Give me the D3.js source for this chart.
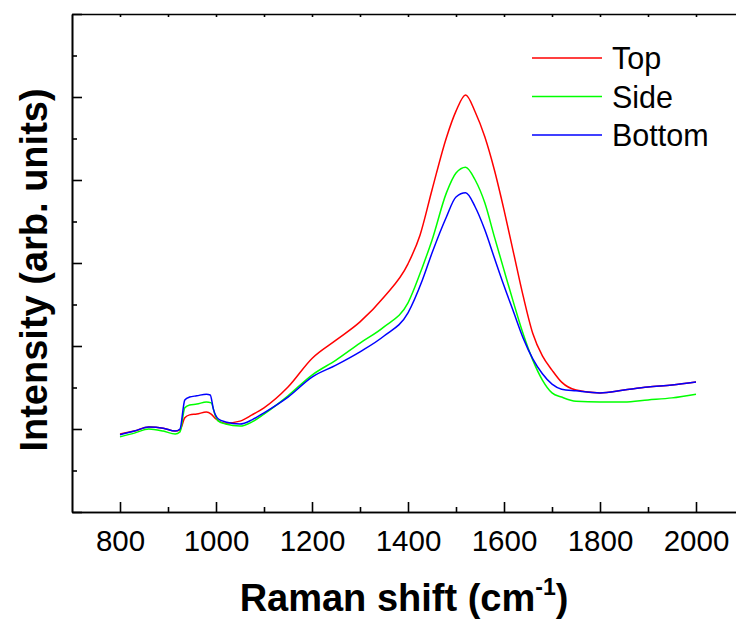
<!DOCTYPE html>
<html>
<head>
<meta charset="utf-8">
<script src="https://cdn.jsdelivr.net/npm/d3@7/dist/d3.min.js"></script>
<style>
  html, body { margin: 0; padding: 0; background: #fff; }
  svg { display: block; }
  text { font-family: Arial, "Liberation Sans", Helvetica, sans-serif; fill: #000; }
</style>
</head>
<body>
<svg id="chart" width="736" height="621"></svg>
<script>
// Raman spectra of the three sample faces (intensity in arbitrary units)
const seriesNames = ["Top", "Side", "Bottom"];
const seriesColors = ["#ff0000", "#00ff00", "#0000ff"];

const topShift = [800, 830, 860, 890, 915, 925, 935, 945, 960, 980, 990, 1000, 1020, 1050, 1075, 1100, 1150, 1200, 1250, 1300, 1350, 1400, 1425, 1450, 1480, 1500, 1520, 1540, 1560, 1580, 1600, 1620, 1640, 1660, 1680, 1700, 1720, 1750, 1800, 1850, 1900, 1950, 2000];
const topIntensity = [1.88, 1.95, 2.05, 2.02, 1.95, 1.98, 2.27, 2.34, 2.36, 2.41, 2.36, 2.24, 2.14, 2.19, 2.34, 2.51, 3.01, 3.70, 4.14, 4.58, 5.18, 5.98, 6.67, 7.76, 9.02, 9.66, 10.05, 9.64, 9.04, 8.24, 7.28, 6.24, 5.20, 4.30, 3.76, 3.42, 3.13, 2.94, 2.87, 2.94, 3.01, 3.06, 3.13];

const sideShift = [800, 830, 860, 890, 915, 925, 935, 945, 960, 980, 990, 998, 1005, 1020, 1050, 1075, 1100, 1150, 1200, 1250, 1300, 1350, 1400, 1430, 1450, 1480, 1500, 1520, 1540, 1560, 1580, 1600, 1620, 1640, 1660, 1680, 1700, 1720, 1750, 1800, 1850, 1900, 1950, 2000];
const sideIntensity = [1.81, 1.90, 2.00, 1.95, 1.88, 1.93, 2.51, 2.58, 2.60, 2.65, 2.63, 2.34, 2.19, 2.12, 2.07, 2.17, 2.36, 2.80, 3.30, 3.66, 4.07, 4.46, 5.04, 5.90, 6.55, 7.69, 8.17, 8.31, 8.00, 7.45, 6.63, 5.83, 5.04, 4.29, 3.66, 3.18, 2.87, 2.77, 2.67, 2.65, 2.65, 2.70, 2.75, 2.84];

const bottomShift = [800, 830, 860, 890, 915, 925, 935, 945, 960, 980, 988, 995, 1005, 1020, 1050, 1075, 1100, 1150, 1200, 1250, 1300, 1350, 1400, 1430, 1450, 1480, 1500, 1520, 1540, 1560, 1580, 1600, 1620, 1640, 1660, 1680, 1700, 1720, 1750, 1800, 1850, 1900, 1950, 2000];
const bottomIntensity = [1.86, 1.95, 2.05, 2.02, 1.95, 2.00, 2.70, 2.77, 2.80, 2.84, 2.82, 2.46, 2.24, 2.17, 2.12, 2.22, 2.39, 2.77, 3.25, 3.54, 3.86, 4.24, 4.80, 5.59, 6.24, 7.11, 7.59, 7.69, 7.35, 6.80, 6.12, 5.45, 4.82, 4.19, 3.69, 3.33, 3.08, 2.96, 2.92, 2.87, 2.94, 3.01, 3.06, 3.13];

const xMajorTicks = [800, 1000, 1200, 1400, 1600, 1800, 2000];
const xMinorTicks = [900, 1100, 1300, 1500, 1700, 1900];
const yMajorTicks = [0, 2, 4, 6, 8, 10, 12];
const yMinorTicks = [1, 3, 5, 7, 9, 11];

const xTitle = "Raman shift (cm";
const xTitleSup = "-1";
const yTitle = "Intensity (arb. units)";

const series = [
  { name: seriesNames[0], color: seriesColors[0], points: d3.zip(topShift, topIntensity) },
  { name: seriesNames[1], color: seriesColors[1], points: d3.zip(sideShift, sideIntensity) },
  { name: seriesNames[2], color: seriesColors[2], points: d3.zip(bottomShift, bottomIntensity) }
];

const svg = d3.select("#chart");
const plotLeft = 72, plotTop = 14, plotBottom = 512, plotRight = 744;

const x = d3.scaleLinear().domain([700, 2100]).range([plotLeft, plotRight]);
const y = d3.scaleLinear().domain([0, 12]).range([plotBottom, plotTop]);

// axes: ticks point inward, no labels on the intensity axis
function styleAxis(g) {
  g.selectAll("path.domain").attr("stroke", "#000").attr("stroke-width", 1.6);
  g.selectAll(".tick line").attr("stroke", "#000").attr("stroke-width", 1.6);
}

svg.append("g")
  .attr("transform", `translate(0,${plotBottom})`)
  .call(d3.axisBottom(x).tickValues(xMinorTicks).tickSizeInner(-5).tickSizeOuter(0).tickFormat(""))
  .call(styleAxis);

const xAxisG = svg.append("g")
  .attr("transform", `translate(0,${plotBottom})`)
  .call(d3.axisBottom(x).tickValues(xMajorTicks).tickSizeInner(-10).tickSizeOuter(0).tickPadding(18).tickFormat(d3.format("d")))
  .call(styleAxis);
xAxisG.selectAll(".tick text")
  .attr("font-size", 29.5)
  .attr("font-family", "Arial, 'Liberation Sans', sans-serif")
  .attr("fill", "#000");

svg.append("g")
  .attr("transform", `translate(0,${plotTop})`)
  .call(d3.axisTop(x).tickValues(d3.range(800, 2100, 100)).tickSizeInner(-3).tickSizeOuter(0).tickFormat(""))
  .call(styleAxis);

svg.append("g")
  .attr("transform", `translate(${plotLeft},0)`)
  .call(d3.axisLeft(y).tickValues(yMinorTicks).tickSizeInner(-5).tickSizeOuter(0).tickFormat(""))
  .call(styleAxis);

svg.append("g")
  .attr("transform", `translate(${plotLeft},0)`)
  .call(d3.axisLeft(y).tickValues(yMajorTicks).tickSizeInner(-10).tickSizeOuter(0).tickFormat(""))
  .call(styleAxis);

// spectra
const line = d3.line()
  .x(d => x(d[0]))
  .y(d => y(d[1]))
  .curve(d3.curveMonotoneX);

svg.append("g").selectAll("path.spectrum")
  .data(series)
  .join("path")
  .attr("class", "spectrum")
  .attr("fill", "none")
  .attr("stroke", d => d.color)
  .attr("stroke-width", 1.5)
  .attr("d", d => line(d.points));

// legend
const legend = svg.append("g").selectAll("g")
  .data(series)
  .join("g")
  .attr("transform", (d, i) => `translate(532,${58 + i * 38.5})`);
legend.append("line")
  .attr("x1", 0).attr("x2", 70)
  .attr("stroke", d => d.color)
  .attr("stroke-width", 1.5);
legend.append("text")
  .attr("x", 80)
  .attr("y", 11)
  .attr("font-size", 30.5)
  .text(d => d.name);

// axis titles
const xt = svg.append("text")
  .attr("x", 404)
  .attr("y", 611)
  .attr("text-anchor", "middle")
  .attr("font-size", 38)
  .attr("font-weight", "bold");
xt.append("tspan").text(xTitle);
xt.append("tspan").attr("font-size", 23).attr("dy", -16).text(xTitleSup);
xt.append("tspan").attr("dy", 16).text(")");

svg.append("text")
  .attr("transform", "translate(47,270) rotate(-90)")
  .attr("text-anchor", "middle")
  .attr("font-size", 38)
  .attr("font-weight", "bold")
  .text(yTitle);
</script>
</body>
</html>
